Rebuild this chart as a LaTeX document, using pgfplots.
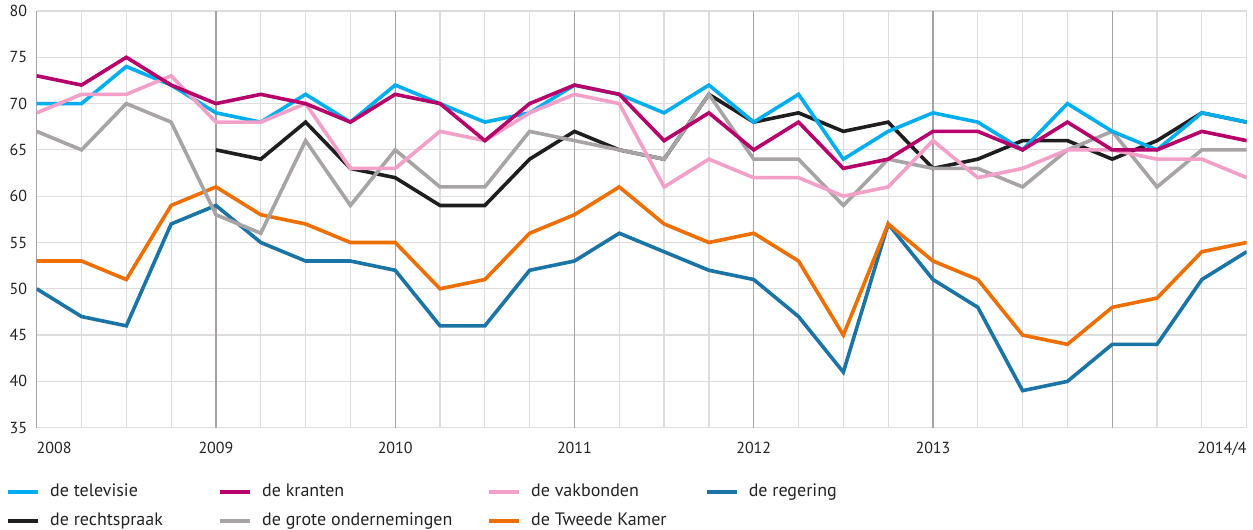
\documentclass[border=0pt]{standalone}
\usepackage{fontspec}
\setmainfont{PT Sans}
\usepackage{pgfplots}
\pgfplotsset{compat=1.18}
\usepackage{pgfplotstable}

\definecolor{ctv}{RGB}{0,174,239}
\definecolor{ckr}{RGB}{182,0,106}
\definecolor{cvb}{RGB}{242,160,200}
\definecolor{creg}{RGB}{26,116,165}
\definecolor{crs}{RGB}{30,30,32}
\definecolor{cgo}{RGB}{168,163,165}
\definecolor{ctk}{RGB}{238,110,0}
\definecolor{cgrid}{RGB}{222,220,222}
\definecolor{cyear}{RGB}{168,162,166}
\definecolor{ctxt}{RGB}{35,35,35}

\pgfplotstableread{
i tv kr vb reg rs go tk
0 70 73 69 50 nan 67 53
1 70 72 71 47 nan 65 53
2 74 75 71 46 nan 70 51
3 72 72 73 57 nan 68 59
4 69 70 68 59 65 58 61
5 68 71 68 55 64 56 58
6 71 70 70 53 68 66 57
7 68 68 63 53 63 59 55
8 72 71 63 52 62 65 55
9 70 70 67 46 59 61 50
10 68 66 66 46 59 61 51
11 69 70 69 52 64 67 56
12 72 72 71 53 67 66 58
13 71 71 70 56 65 65 61
14 69 66 61 54 64 64 57
15 72 69 64 52 71 71 55
16 68 65 62 51 68 64 56
17 71 68 62 47 69 64 53
18 64 63 60 41 67 59 45
19 67 64 61 57 68 64 57
20 69 67 66 51 63 63 53
21 68 67 62 48 64 63 51
22 65 65 63 39 66 61 45
23 70 68 65 40 66 65 44
24 67 65 65 44 64 67 48
25 65 65 64 44 66 61 49
26 69 67 64 51 69 65 54
27 68 66 62 54 68 65 55
}\data

\begin{document}
\begin{tikzpicture}
\path[use as bounding box] (0pt,0pt) rectangle (1253pt,530pt);
\begin{axis}[
  at={(36.7pt,102.3pt)}, anchor=south west,
  width=1210pt, height=416.7pt, scale only axis,
  xmin=0, xmax=27, ymin=35, ymax=80,
  ytick={35,40,...,80},
  xtick={0,4,8,12,16,20,27},
  xticklabels={\makebox[0pt][l]{2008},2009,2010,2011,2012,2013,\makebox[0pt][r]{2014/4}},
  minor xtick={1,2,3,5,6,7,9,10,11,13,14,15,17,18,19,21,22,23,25,26},
  extra x ticks={0,4,8,12,16,20,24},
  extra x tick labels={},
  extra x tick style={grid=major, major grid style={cyear, line width=1.3pt}},
  grid=both,
  major grid style={cgrid, line width=1.2pt},
  minor grid style={cgrid, line width=1.2pt},
  major tick length=0pt, minor tick length=0pt,
  axis line style={draw=none},
  /pgf/number format/assume math mode=true,
  tick label style={font=\fontsize{16}{19}\selectfont, text=ctxt},
  yticklabel style={inner sep=0pt, anchor=east, xshift=-9.5pt},
  xticklabel style={inner sep=0pt, anchor=north, yshift=-14pt},
  legend columns=4,
  legend cell align=left,
  legend style={at={(-0.0252,-0.1895)}, anchor=west, draw=none, fill=none,
    inner sep=0pt, outer sep=0pt, column sep=10pt, row sep=12pt,
    font=\fontsize{18}{21}\selectfont, text=ctxt,
    nodes={inner sep=0pt, text height=13pt, text depth=4.5pt}},
  legend image code/.code={\draw[#1, line width=4pt] (0pt,0pt) -- (30pt,0pt);},
]
\addlegendimage{ctv}\addlegendentry{\makebox[158pt][l]{de televisie}}
\addlegendimage{ckr}\addlegendentry{\makebox[215pt][l]{de kranten}}
\addlegendimage{cvb}\addlegendentry{\makebox[163.6pt][l]{de vakbonden}}
\addlegendimage{creg}\addlegendentry{de regering}
\addlegendimage{crs}\addlegendentry{\makebox[158pt][l]{de rechtspraak}}
\addlegendimage{cgo}\addlegendentry{\makebox[215pt][l]{de grote ondernemingen}}
\addlegendimage{ctk}\addlegendentry{\makebox[163.6pt][l]{de Tweede Kamer}}

\addplot[creg, line width=3.6pt, forget plot] table[x=i, y=reg] {\data};
\addplot[ctk, line width=3.6pt, forget plot] table[x=i, y=tk] {\data};
\addplot[crs, line width=3.6pt, forget plot] table[x=i, y=rs] {\data};
\addplot[cgo, line width=3.6pt, forget plot] table[x=i, y=go] {\data};
\addplot[ctv, line width=3.6pt, forget plot] table[x=i, y=tv] {\data};
\addplot[cvb, line width=3.6pt, forget plot] table[x=i, y=vb] {\data};
\addplot[ckr, line width=3.6pt, forget plot] table[x=i, y=kr] {\data};
\end{axis}
\end{tikzpicture}
\end{document}
